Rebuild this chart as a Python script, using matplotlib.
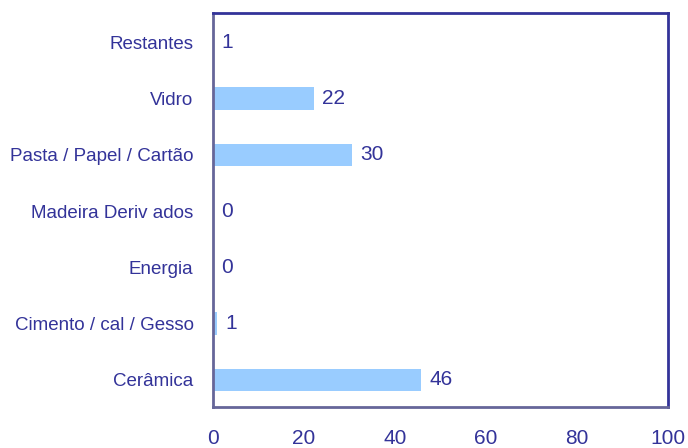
import matplotlib.pyplot as plt

# categories bottom -> top
categories = ['Cerâmica', 'Cimento / cal / Gesso', 'Energia', 'Madeira Deriv ados',
              'Pasta / Papel / Cartão', 'Vidro', 'Restantes']
values = [45.8, 0.8, 0, 0, 30.5, 22.2, 0.1]
shown = ['46', '1', '0', '0', '30', '22', '1']
xticks = [0, 20, 40, 60, 80, 100]

textColor = '#333399'
barColor = '#99ccff'

plt.rcParams['font.family'] = ['Liberation Sans', 'DejaVu Sans']

fig = plt.figure(figsize=(6.88, 4.48), dpi=100)
ax = fig.add_axes([213 / 688, 1 - 407 / 448, 455 / 688, 394 / 448])

pos = list(range(len(categories)))
ax.barh(pos, values, height=0.4, color=barColor, edgecolor='none')
for p, v, s in zip(pos, values, shown):
    ax.annotate(s, (v, p), xytext=(6, 0), textcoords='offset points',
                va='center', ha='left', fontsize=15, color=textColor)

ax.set_xlim(0, 100)
ax.set_ylim(-0.48, 6.52)
ax.set_xticks(xticks)
ax.set_xticklabels([str(t) for t in xticks], fontsize=15, color=textColor)
ax.set_yticks(pos)
ax.set_yticklabels(categories, fontsize=13.5, color=textColor)
ax.tick_params(axis='both', length=0)
ax.tick_params(axis='x', pad=16)
ax.tick_params(axis='y', pad=14)

for side in ['top', 'right']:
    ax.spines[side].set_color('#333399')
    ax.spines[side].set_linewidth(2)
for side in ['left', 'bottom']:
    ax.spines[side].set_color('#666699')
    ax.spines[side].set_linewidth(2)

plt.savefig('out.png', dpi=100)
